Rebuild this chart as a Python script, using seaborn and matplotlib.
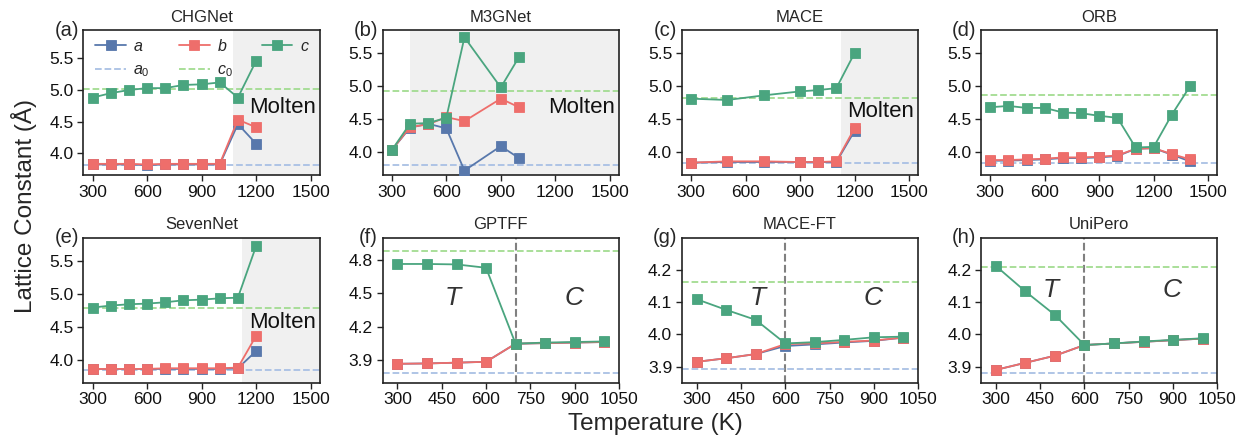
import numpy as np
import pandas as pd
import matplotlib
matplotlib.use("Agg")
import matplotlib.pyplot as plt
import seaborn as sns

sns.set_theme(style="ticks")
plt.rcParams['font.family'] = ['Liberation Sans', 'DejaVu Sans']
plt.rcParams['mathtext.fontset'] = 'custom'
plt.rcParams['mathtext.rm'] = 'Liberation Sans'
plt.rcParams['mathtext.it'] = 'Liberation Sans:italic'

# ---- data ----
models = ["CHGNet", "M3GNet", "MACE", "ORB", "SevenNet", "GPTFF", "MACE-FT", "UniPero"]
tags = ["(a)", "(b)", "(c)", "(d)", "(e)", "(f)", "(g)", "(h)"]

T_chg = [300, 400, 500, 600, 700, 800, 900, 1000, 1100, 1200]
a_chg = [3.82, 3.82, 3.82, 3.81, 3.82, 3.82, 3.82, 3.82, 4.46, 4.15]
b_chg = [3.83, 3.83, 3.83, 3.82, 3.83, 3.83, 3.83, 3.83, 4.53, 4.41]
c_chg = [4.88, 4.95, 5.00, 5.03, 5.03, 5.08, 5.09, 5.12, 4.88, 5.46]

T_m3g = [300, 400, 500, 600, 700, 900, 1000]
a_m3g = [4.03, 4.37, 4.43, 4.36, 3.72, 4.09, 3.91]
b_m3g = [4.03, 4.38, 4.42, 4.53, 4.47, 4.81, 4.68]
c_m3g = [4.03, 4.43, 4.44, 4.52, 5.74, 4.98, 5.44]

T_mace = [300, 500, 700, 900, 1000, 1100, 1200]
a_mace = [3.84, 3.85, 3.85, 3.85, 3.85, 3.85, 4.32]
b_mace = [3.84, 3.86, 3.86, 3.85, 3.85, 3.86, 4.36]
c_mace = [4.81, 4.79, 4.86, 4.92, 4.94, 4.97, 5.50]

T_orb = [300, 400, 500, 600, 700, 800, 900, 1000, 1100, 1200, 1300, 1400]
a_orb = [3.87, 3.87, 3.88, 3.89, 3.91, 3.91, 3.92, 3.94, 4.05, 4.06, 3.96, 3.86]
b_orb = [3.88, 3.88, 3.89, 3.90, 3.92, 3.92, 3.93, 3.95, 4.05, 4.06, 3.97, 3.89]
c_orb = [4.68, 4.70, 4.67, 4.67, 4.60, 4.59, 4.55, 4.52, 4.07, 4.08, 4.57, 5.00]

T_sev = [300, 400, 500, 600, 700, 800, 900, 1000, 1100, 1200]
a_sev = [3.86, 3.86, 3.86, 3.86, 3.86, 3.86, 3.86, 3.86, 3.87, 4.13]
b_sev = [3.86, 3.86, 3.86, 3.86, 3.87, 3.87, 3.87, 3.87, 3.88, 4.36]
c_sev = [4.79, 4.82, 4.84, 4.85, 4.87, 4.90, 4.91, 4.93, 4.94, 5.72]

T_low = [300, 400, 500, 600, 700, 800, 900, 1000]
a_gpt = [3.87, 3.873, 3.88, 3.888, 4.05, 4.055, 4.06, 4.065]
b_gpt = [3.87, 3.873, 3.88, 3.888, 4.05, 4.055, 4.06, 4.065]
c_gpt = [4.764, 4.764, 4.76, 4.73, 4.05, 4.06, 4.065, 4.07]

a_mft = [3.915, 3.926, 3.939, 3.964, 3.969, 3.975, 3.980, 3.990]
b_mft = [3.915, 3.926, 3.939, 3.970, 3.972, 3.977, 3.981, 3.990]
c_mft = [4.109, 4.076, 4.045, 3.972, 3.976, 3.983, 3.991, 3.993]

a_uni = [3.890, 3.912, 3.934, 3.967, 3.972, 3.977, 3.982, 3.987]
b_uni = [3.890, 3.912, 3.934, 3.967, 3.972, 3.977, 3.982, 3.987]
c_uni = [4.212, 4.133, 4.060, 3.967, 3.972, 3.978, 3.983, 3.988]

temps = [T_chg, T_m3g, T_mace, T_orb, T_sev, T_low, T_low, T_low]
a_vals = [a_chg, a_m3g, a_mace, a_orb, a_sev, a_gpt, a_mft, a_uni]
b_vals = [b_chg, b_m3g, b_mace, b_orb, b_sev, b_gpt, b_mft, b_uni]
c_vals = [c_chg, c_m3g, c_mace, c_orb, c_sev, c_gpt, c_mft, c_uni]
a0_vals = [3.805, 3.80, 3.83, 3.83, 3.84, 3.79, 3.892, 3.881]
c0_vals = [5.01, 4.93, 4.82, 4.87, 4.79, 4.884, 4.162, 4.21]

molten_start = [1075, 400, 1125, None, 1125, None, None, None]
molten_y = [4.73, 4.68, 4.62, None, 4.57, None, None, None]
transition = [None, None, None, None, None, 700, 600, 600]
tc_y = [None, None, None, None, None, 4.455, 4.112, 4.138]
T_x = [None, None, None, None, None, 490, 510, 490]
C_x = 900

col_a, col_b, col_c = "#5878ac", "#ee6e6b", "#4aa57f"
col_a0, col_c0 = "#a9c0e4", "#a2dc91"

fig, axes = plt.subplots(2, 4, figsize=(12.46, 4.42), dpi=100)
fig.subplots_adjust(left=0.067, right=0.977, top=0.932, bottom=0.134,
                    wspace=0.267, hspace=0.43)
axes = axes.ravel()

for i, ax in enumerate(axes):
    T = temps[i]
    if molten_start[i] is not None:
        ax.axvspan(molten_start[i], 1550, color="#f0f0f0", zorder=0, lw=0)
        ax.text(1345, molten_y[i], "Molten", fontsize=16, ha="center", va="center",
                color="#111111")
    if transition[i] is not None:
        ax.axvline(transition[i], color="#808080", ls="--", lw=1.5, zorder=1)
        ax.text(T_x[i], tc_y[i], "$T$", fontsize=19, ha="center", va="center", color="#333333")
        ax.text(C_x, tc_y[i], "$C$", fontsize=19, ha="center", va="center", color="#333333")
    ha0 = ax.axhline(a0_vals[i], color=col_a0, ls="--", lw=1.3, zorder=1)
    hc0 = ax.axhline(c0_vals[i], color=col_c0, ls="--", lw=1.3, zorder=1)
    for vals, col in [(a_vals[i], col_a), (b_vals[i], col_b), (c_vals[i], col_c)]:
        sns.lineplot(x=T, y=vals, ax=ax, color=col, marker="s", markersize=6.5,
                     markeredgecolor=col, markeredgewidth=0.6, linewidth=1.3, zorder=3)
    ax.set_title(models[i], fontsize=12, pad=6)
    ax.text(-0.02, 1.0, tags[i], transform=ax.transAxes, ha="right", va="center",
            fontsize=14.5)
    if i < 5:
        ax.set_xlim(250, 1550)
        ax.set_xticks([300, 600, 900, 1200, 1500])
        ax.set_yticks([4.0, 4.5, 5.0, 5.5])
        ax.set_ylim(3.65, 5.95 if i == 0 else 5.85)
    else:
        ax.set_xlim(250, 1050)
        ax.set_xticks([300, 450, 600, 750, 900, 1050])
        if i == 5:
            ax.set_ylim(3.7, 5.0)
            ax.set_yticks([3.9, 4.2, 4.5, 4.8])
        else:
            ax.set_ylim(3.85, 4.3)
            ax.set_yticks([3.9, 4.0, 4.1, 4.2])
    ax.tick_params(labelsize=12.5, length=4, width=1.0, color="#222222",
                   labelcolor="#111111", pad=3)
    for s in ax.spines.values():
        s.set_linewidth(1.2)
        s.set_color("#222222")
    ax.set_xlabel("")
    ax.set_ylabel("")
    if i == 0:
        lines = ax.get_lines()
        la, lb, lc = lines[-3], lines[-2], lines[-1]
        ax.legend([la, ha0, lb, hc0, lc], ["$a$", "$a_0$", "$b$", "$c_0$", "$c$"],
                  ncol=3, loc="upper left", bbox_to_anchor=(-0.01, 1.045), frameon=False,
                  fontsize=11.5, handlelength=1.9, handletextpad=0.45, columnspacing=1.85,
                  labelspacing=0.55)

fig.text(0.526, 0.04, "Temperature (K)", fontsize=17.5, ha="center", va="center")
fig.text(0.019, 0.535, "Lattice Constant (Å)", fontsize=17.5, ha="center", va="center",
         rotation=90)

fig.savefig("out.png", dpi=100)
